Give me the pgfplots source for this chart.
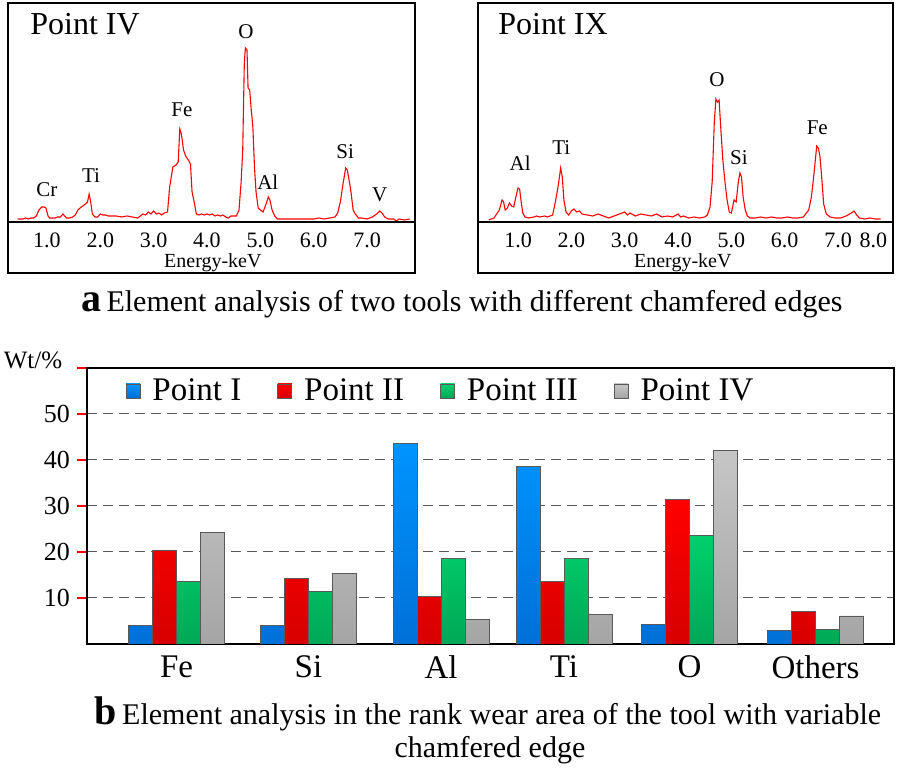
\documentclass[border=0pt]{standalone}
\usepackage{fontspec}
\setmainfont{Liberation Serif}
\usepackage{pgfplots}
\pgfplotsset{compat=1.18}
\newcommand\fs[1]{\fontsize{#1}{#1}\selectfont}
\definecolor{bluetop}{RGB}{0,148,255}
\definecolor{bluebot}{RGB}{0,112,215}
\definecolor{redtop}{RGB}{255,0,0}
\definecolor{redbot}{RGB}{215,0,0}
\definecolor{greentop}{RGB}{0,208,108}
\definecolor{greenbot}{RGB}{0,168,85}
\definecolor{graytop}{RGB}{198,198,198}
\definecolor{graybot}{RGB}{165,165,165}
\pgfplotsset{
  spec/.style={scale only axis, anchor=north west, height=135pt,
    ymin=-51, ymax=219, ytick=\empty, major tick length=0pt,
    axis line style={line width=1pt},
    xticklabel style={anchor=center, yshift=16.5pt, font=\fs{11}},
    clip=false},
}
\begin{document}
\begin{tikzpicture}
\useasboundingbox (0,0) rectangle (453pt,-385pt);
% ---------------- spectrum Point IV ----------------
\begin{axis}[spec, at={(4pt,-1.5pt)}, width=203.5pt, xmin=0.269, xmax=7.90,
  xtick={1,2,3,4,5,6,7}, xticklabels={1.0,2.0,3.0,4.0,5.0,6.0,7.0}]
\addplot[red, line width=0.55pt] table {
0.45 3
0.5 3
0.55 3
0.6 4
0.65 3
0.7 4
0.75 4
0.8 6
0.85 12
0.9 15
0.95 15
0.98 14
1.02 6
1.05 4
1.1 4
1.15 4
1.2 5
1.25 5
1.3 8
1.33 6
1.37 4
1.42 4
1.48 5
1.53 7
1.58 12
1.62 14
1.67 16
1.72 18
1.76 20
1.79 28
1.82 20
1.85 8
1.9 5
1.95 5
2.0 8
2.05 7
2.1 7
2.15 6
2.2 6
2.3 6
2.4 5
2.5 6
2.6 5
2.7 4
2.75 6
2.8 8
2.85 7
2.9 10
2.95 8
3.0 11
3.05 8
3.1 9
3.15 7
3.2 9
3.26 10
3.3 35
3.36 55
3.42 57
3.46 60
3.49 93
3.52 88
3.56 72
3.6 66
3.65 62
3.69 58
3.72 30
3.76 20
3.8 8
3.85 7
3.9 8
3.95 7
4.0 8
4.05 7
4.1 8
4.15 6
4.2 7
4.25 6
4.3 7
4.35 5
4.4 4
4.45 6
4.5 6
4.55 6
4.6 12
4.64 40
4.67 72
4.7 160
4.72 174
4.75 172
4.77 134
4.8 132
4.83 112
4.86 95
4.89 55
4.92 30
4.96 14
5.0 12
5.05 10
5.08 14
5.12 20
5.15 25
5.18 22
5.22 12
5.27 6
5.32 3
5.4 3
5.5 3
5.6 3
5.7 3
5.8 3
5.9 3
6.0 3
6.1 4
6.2 3
6.3 4
6.4 5
6.45 9
6.5 20
6.55 38
6.6 54
6.63 52
6.67 40
6.7 30
6.74 12
6.78 8
6.84 4
6.9 4
7.0 3
7.1 5
7.18 8
7.24 11
7.28 9
7.33 5
7.4 3
7.5 3
7.55 1
7.6 3
7.7 2
7.8 3
};
\draw[line width=0.8pt] (axis cs:0.269,0) -- (axis cs:7.90,0);
\node[font=\fs{16}, anchor=west, inner sep=0pt] at (axis cs:0.68,198) {Point IV};
\node[font=\fs{10.5}] at (axis cs:1.0,32) {Cr};
\node[font=\fs{10.5}] at (axis cs:1.825,46) {Ti};
\node[font=\fs{10.5}] at (axis cs:3.53,112) {Fe};
\node[font=\fs{10.5}] at (axis cs:4.73,190) {O};
\node[font=\fs{10.5}] at (axis cs:5.14,40) {Al};
\node[font=\fs{10.5}] at (axis cs:6.59,70) {Si};
\node[font=\fs{10.5}] at (axis cs:7.24,27) {V};
\node[font=\fs{10}] at (axis cs:4.11,-40.5) {Energy-keV};
\end{axis}
% ---------------- spectrum Point IX ----------------
\begin{axis}[spec, at={(239pt,-1.5pt)}, width=207.5pt, xmin=0.25, xmax=8.03,
  xtick={1,2,3,4,5,6,7,7.66}, xticklabels={1.0,2.0,3.0,4.0,5.0,6.0,7.0,8.0}]
\addplot[red, line width=0.55pt] table {
0.45 2
0.5 3
0.55 4
0.6 8
0.65 12
0.7 22
0.73 20
0.76 12
0.8 14
0.84 19
0.88 16
0.92 15
0.96 25
1.0 34
1.03 33
1.06 20
1.09 9
1.13 5
1.2 4
1.3 5
1.35 6
1.4 5
1.5 6
1.55 5
1.6 6
1.65 7
1.7 20
1.75 35
1.8 54
1.83 45
1.86 22
1.9 10
1.95 7
2.0 11
2.05 13
2.1 10
2.15 11
2.2 8
2.3 7
2.4 6
2.5 8
2.6 6
2.7 4
2.8 6
2.9 8
3.0 10
3.05 7
3.1 9
3.2 6
3.3 8
3.4 7
3.5 6
3.6 8
3.7 5
3.8 6
3.9 5
4.0 8
4.05 5
4.1 6
4.2 4
4.3 5
4.4 4
4.5 5
4.55 7
4.6 15
4.64 40
4.68 100
4.71 123
4.74 120
4.77 122
4.8 95
4.84 62
4.88 40
4.92 22
4.96 10
5.0 9
5.05 22
5.09 20
5.13 40
5.16 49
5.19 45
5.22 25
5.26 12
5.3 6
5.35 4
5.45 4
5.55 5
5.65 4
5.75 5
5.85 4
5.95 4
6.05 5
6.15 4
6.25 4
6.35 5
6.45 12
6.5 25
6.55 49
6.6 76
6.63 74
6.66 66
6.7 40
6.73 18
6.78 8
6.85 5
6.95 4
7.05 4
7.15 6
7.25 9
7.3 11
7.35 7
7.4 4
7.5 3
7.6 4
7.7 3
7.8 3
};
\draw[line width=0.8pt] (axis cs:0.25,0) -- (axis cs:8.03,0);
\node[font=\fs{16}, anchor=west, inner sep=0pt] at (axis cs:0.625,198) {Point IX};
\node[font=\fs{10.5}] at (axis cs:1.04,59) {Al};
\node[font=\fs{10.5}] at (axis cs:1.81,74) {Ti};
\node[font=\fs{10.5}] at (axis cs:4.73,142) {O};
\node[font=\fs{10.5}] at (axis cs:5.14,64) {Si};
\node[font=\fs{10.5}] at (axis cs:6.61,94) {Fe};
\node[font=\fs{10}] at (axis cs:4.09,-40.5) {Energy-keV};
\end{axis}
% ---------------- caption a ----------------
\node[anchor=base] at (231pt,-156pt) {{\fs{20}\bfseries a}\ {\fs{15}Element analysis of two tools with different chamfered edges}};
% ---------------- bar chart ----------------
\begin{axis}[at={(43.5pt,-184pt)}, anchor=north west, scale only axis,
  width=403.5pt, height=138pt,
  xmin=87, xmax=894, ymin=0, ymax=60,
  xtick={176.5,308.5,441,564,689.5,815.5},
  xticklabels={Fe,Si,Al,Ti,O,Others},
  x tick style={draw=none},
  ytick={10,20,30,40,50,60}, yticklabels={10,20,30,40,50,{}},
  ytick pos=left,
  y tick style={red, line width=0.6pt}, ytick align=outside, major tick length=5pt,
  ymajorgrids, grid style={black!65, dash pattern=on 5pt off 3pt, line width=0.5pt},
  axis line style={line width=1.3pt},
  xticklabel style={font=\fs{16.5}, yshift=-2.5pt},
  yticklabel style={font=\fs{13}},
  legend columns=4,
  legend style={draw=none, fill=none, at={(0.04,0.917)}, anchor=west,
    font=\fs{16.5},
    /tikz/every odd column/.append style={column sep=4pt},
    /tikz/every even column/.append style={column sep=16pt}},
  legend image code/.code={\draw[#1] (0pt,-3.5pt) rectangle (7pt,3.5pt);},
]
\addplot[ybar, bar width=24, bar shift=-36, draw=black!65, line width=0.4pt, top color=bluetop, bottom color=bluebot]
  coordinates {(176.5,4.0) (308.5,4.0) (441,43.5) (564,38.5) (689.5,4.3) (815.5,2.9)};
\addplot[ybar, bar width=24, bar shift=-12, draw=black!65, line width=0.4pt, top color=redtop, bottom color=redbot]
  coordinates {(176.5,20.3) (308.5,14.2) (441,10.3) (564,13.6) (689.5,31.5) (815.5,7.1)};
\addplot[ybar, bar width=24, bar shift=12, draw=black!65, line width=0.4pt, top color=greentop, bottom color=greenbot]
  coordinates {(176.5,13.6) (308.5,11.5) (441,18.5) (564,18.5) (689.5,23.6) (815.5,3.2)};
\addplot[ybar, bar width=24, bar shift=36, draw=black!65, line width=0.4pt, top color=graytop, bottom color=graybot]
  coordinates {(176.5,24.3) (308.5,15.4) (441,5.4) (564,6.4) (689.5,42.1) (815.5,6.1)};
\legend{Point I, Point II, Point III, Point IV}
\end{axis}
\node[font=\fs{12.5}] at (16.5pt,-180pt) {Wt/\%};
% ---------------- caption b ----------------
\node[anchor=base] at (244pt,-362pt) {{\fs{20}\bfseries b}\ {\fs{15}Element analysis in the rank wear area of the tool with variable}};
\node[anchor=base, font=\fs{15}] at (245pt,-378.5pt) {chamfered edge};
\end{tikzpicture}
\end{document}
